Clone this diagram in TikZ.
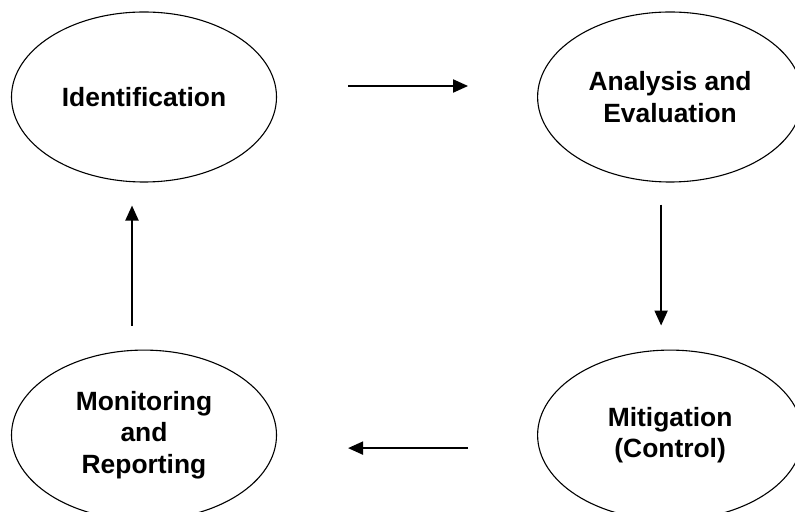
\documentclass[tikz,border=0pt]{standalone}
\usepackage{fontspec}
\setmainfont{Liberation Sans}
\usetikzlibrary{arrows.meta,positioning,shapes.geometric}
\tikzset{
  stage/.style={draw=black,ellipse,line width=0.55pt,minimum width=132.5pt,minimum height=85pt,inner sep=0pt,align=center,font=\fontsize{13.2}{15.8}\selectfont\bfseries,text=black},
  arr/.style={-{Triangle[length=7.5pt,width=6.5pt]},draw=black,line width=1pt}
}

\begin{document}
\begin{tikzpicture}[x=0.5pt,y=-0.5pt,node distance=83.5pt and 130pt]
  \useasboundingbox (0,0) rectangle (795,512);
  \node[stage] (ident) at (144,97) {Identification};
  \node[stage,right=of ident] (anal) {Analysis and\\Evaluation};
  \node[stage,below=of ident] (monit) {Monitoring\\and\\Reporting};
  \node[stage,right=of monit] (mitig) {Mitigation\\(Control)};
  \draw[arr,shorten <=35.5pt,shorten >=34.5pt] ([yshift=5.5pt]ident.east) -- ([yshift=5.5pt]anal.west);
  \draw[arr,shorten <=11pt,shorten >=12pt] ([xshift=-4.5pt]anal.south) -- ([xshift=-4.5pt]mitig.north);
  \draw[arr,shorten <=34.5pt,shorten >=35.5pt] ([yshift=-6.5pt]mitig.west) -- ([yshift=-6.5pt]monit.east);
  \draw[arr,shorten <=12pt,shorten >=11.5pt] ([xshift=-6pt]monit.north) -- ([xshift=-6pt]ident.south);
\end{tikzpicture}
\end{document}
